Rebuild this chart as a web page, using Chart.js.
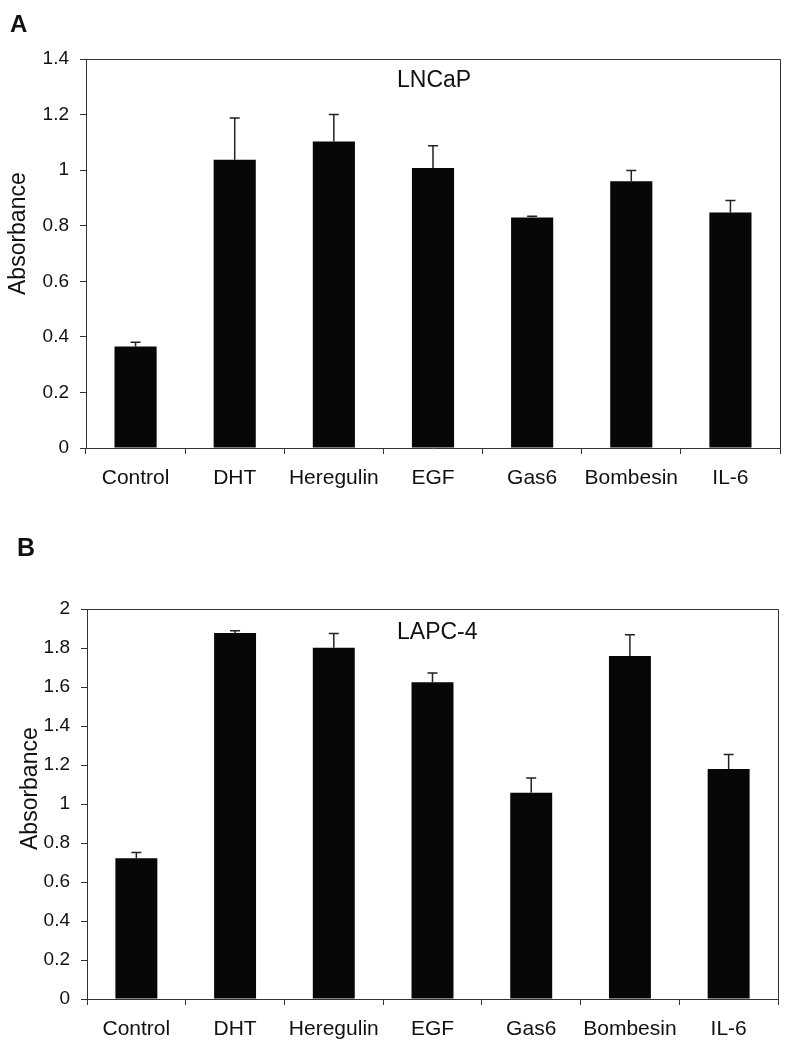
<!DOCTYPE html>
<html>
<head>
<meta charset="utf-8">
<script src="https://cdn.jsdelivr.net/npm/chart.js@4/dist/chart.umd.min.js"></script>
<style>
  html, body { margin: 0; padding: 0; background: #fff; }
  #wrap { position: relative; width: 795px; height: 1050px; }
  .panel { position: absolute; left: 0; width: 795px; }
  #pa { top: 0; height: 520px; }
  #pb { top: 520px; height: 530px; }
</style>
</head>
<body>
<div id="wrap">
  <div class="panel" id="pa"><canvas id="ca" width="795" height="520"></canvas></div>
  <div class="panel" id="pb"><canvas id="cb" width="795" height="530"></canvas></div>
</div>
<script>
// ---- data ----
const categories = ['Control', 'DHT', 'Heregulin', 'EGF', 'Gas6', 'Bombesin', 'IL-6'];

const lncapValues = [0.365, 1.037, 1.103, 1.008, 0.830, 0.960, 0.848];
const lncapErrors = [0.016, 0.151, 0.097, 0.080, 0.004, 0.039, 0.043];

const lapcValues = [0.722, 1.877, 1.801, 1.624, 1.058, 1.759, 1.179];
const lapcErrors = [0.029, 0.011, 0.074, 0.048, 0.075, 0.109, 0.075];

const yTicksA = [0, 0.2, 0.4, 0.6, 0.8, 1, 1.2, 1.4];
const yTickLabelsA = ['0', '0.2', '0.4', '0.6', '0.8', '1', '1.2', '1.4'];
const yTicksB = [0, 0.2, 0.4, 0.6, 0.8, 1, 1.2, 1.4, 1.6, 1.8, 2];
const yTickLabelsB = ['0', '0.2', '0.4', '0.6', '0.8', '1', '1.2', '1.4', '1.6', '1.8', '2'];

const FONT = '"Liberation Sans", Arial, Helvetica, sans-serif';
const AXIS = '#333333';
const TEXT = '#111111';

function makeChart(canvas, opt) {
  const errorBars = {
    id: 'errorBars',
    afterDatasetsDraw(chart) {
      const ctx = chart.ctx;
      const meta = chart.getDatasetMeta(0);
      const ys = chart.scales.y;
      ctx.save();
      ctx.strokeStyle = '#222';
      ctx.lineWidth = 1.5;
      meta.data.forEach((el, i) => {
        const top = ys.getPixelForValue(opt.values[i] + opt.errors[i]);
        ctx.beginPath();
        ctx.moveTo(el.x, el.y);
        ctx.lineTo(el.x, top);
        ctx.moveTo(el.x - 5, top);
        ctx.lineTo(el.x + 5, top);
        ctx.stroke();
      });
      ctx.restore();
    }
  };
  const frame = {
    id: 'frame',
    afterDraw(chart) {
      const ctx = chart.ctx;
      const a = chart.chartArea;
      ctx.save();
      ctx.strokeStyle = AXIS;
      ctx.lineWidth = 1;
      ctx.beginPath();
      ctx.moveTo(Math.round(a.left) + 0.5, Math.round(a.top) + 0.5);
      ctx.lineTo(Math.round(a.right) + 0.5, Math.round(a.top) + 0.5);
      ctx.lineTo(Math.round(a.right) + 0.5, Math.round(a.bottom) + 0.5);
      ctx.stroke();
      ctx.fillStyle = TEXT;
      // panel letter
      ctx.font = 'bold ' + opt.letterSize + 'px ' + FONT;
      ctx.textAlign = 'left';
      ctx.textBaseline = 'alphabetic';
      ctx.fillText(opt.letter, opt.letterX, opt.letterY);
      // cell line label
      ctx.font = '23px ' + FONT;
      ctx.fillText(opt.label, opt.labelX, opt.labelY);
      // axis title
      ctx.font = '23px ' + FONT;
      ctx.translate(opt.titleX, opt.titleY);
      ctx.rotate(-Math.PI / 2);
      ctx.fillText('Absorbance', 0, 0);
      ctx.restore();
    }
  };
  return new Chart(canvas, {
    type: 'bar',
    data: {
      labels: categories,
      datasets: [{
        data: opt.values,
        backgroundColor: '#070707',
        borderWidth: 0,
        categoryPercentage: 1,
        barPercentage: 0.425
      }]
    },
    options: {
      responsive: false,
      animation: false,
      events: [],
      layout: { padding: opt.padding },
      plugins: { legend: { display: false }, tooltip: { enabled: false } },
      scales: {
        x: {
          type: 'category',
          offset: true,
          grid: { offset: true, drawOnChartArea: false, drawTicks: true, tickLength: 6, color: AXIS, lineWidth: 1 },
          border: { display: true, color: AXIS, width: 1 },
          ticks: { color: TEXT, font: { family: FONT, size: 21 }, padding: 12, maxRotation: 0, autoSkip: false },
          afterFit(s) { s.height = 40; }
        },
        y: {
          type: 'linear',
          min: opt.yTicks[0],
          max: opt.yTicks[opt.yTicks.length - 1],
          grid: { drawOnChartArea: false, drawTicks: true, tickLength: 6, color: AXIS, lineWidth: 1 },
          border: { display: true, color: AXIS, width: 1 },
          afterBuildTicks(s) { s.ticks = opt.yTicks.map(v => ({ value: v })); },
          ticks: {
            color: TEXT,
            font: { family: FONT, size: 19 },
            padding: 11,
            callback(value) {
              const idx = opt.yTicks.findIndex(t => Math.abs(t - value) < 1e-9);
              return idx >= 0 ? opt.yTickLabels[idx] : '';
            }
          },
          afterFit(s) { s.width = opt.yWidth; }
        }
      }
    },
    plugins: [errorBars, frame]
  });
}

makeChart(document.getElementById('ca'), {
  values: lncapValues, errors: lncapErrors,
  yTicks: yTicksA, yTickLabels: yTickLabelsA,
  padding: { top: 59, left: 0, right: 15, bottom: 32 },
  yWidth: 86,
  letter: 'A', letterSize: 24, letterX: 10, letterY: 32,
  label: 'LNCaP', labelX: 397, labelY: 87,
  titleX: 25, titleY: 295
});

makeChart(document.getElementById('cb'), {
  values: lapcValues, errors: lapcErrors,
  yTicks: yTicksB, yTickLabels: yTickLabelsB,
  padding: { top: 89, left: 0, right: 17, bottom: 11 },
  yWidth: 87,
  letter: 'B', letterSize: 25, letterX: 17, letterY: 36,
  label: 'LAPC-4', labelX: 397, labelY: 119,
  titleX: 37, titleY: 330
});
</script>
</body>
</html>
